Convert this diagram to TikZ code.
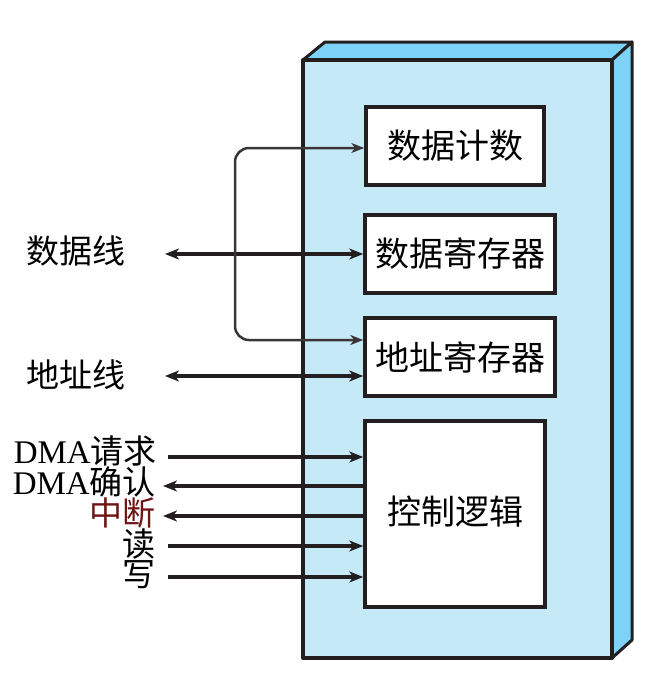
\documentclass[tikz,border=0pt]{standalone}
\usepackage{fontspec}
\setmainfont{Liberation Serif}
\newfontfamily\cjk{Noto Sans CJK SC}
\usetikzlibrary{arrows.meta}
\definecolor{frontblue}{RGB}{198,233,248}
\definecolor{sideblue}{RGB}{125,211,247}
\definecolor{ink}{RGB}{35,31,32}
\definecolor{redbrown}{RGB}{110,20,20}
\newcommand{\zh}[1]{{\cjk #1}}
\tikzset{
  regbox/.style={draw=ink, line width=3.5pt, fill=white, inner sep=0pt, font=\fontsize{34}{38}\selectfont\cjk},
  sig/.style={draw=ink, line width=4pt, -{Stealth[length=14pt,width=11pt,inset=4pt]}},
  bsig/.style={draw=ink, line width=4pt, {Stealth[length=14pt,width=11pt,inset=4pt]}-{Stealth[length=14pt,width=11pt,inset=4pt]}},
  thinsig/.style={draw=ink!90, line width=2.5pt, rounded corners=14pt, {Stealth[length=13pt,width=10pt,inset=4pt]}-{Stealth[length=13pt,width=10pt,inset=4pt]}},
  lbl/.style={inner sep=0pt, font=\fontsize{33}{36}\selectfont},
  face/.style={draw=ink, line width=3pt, line join=round}
}
\begin{document}
\begin{tikzpicture}[x=1pt,y=-1pt]
\useasboundingbox (0,0) rectangle (645,681);
% 3D box
\filldraw[face, fill=sideblue] (303,60) -- (325,42) -- (632,42) -- (612,60) -- cycle;
\filldraw[face, fill=sideblue] (612,60) -- (632,42) -- (632,640) -- (612,658) -- cycle;
\filldraw[face, fill=frontblue, line width=4pt] (303,60) rectangle (612,658);
% inner boxes
\node[regbox, minimum width=178pt, minimum height=78pt] (cnt) at (455,146) {数据计数};
\node[regbox, minimum width=190pt, minimum height=78pt] (dreg) at (460,254) {数据寄存器};
\node[regbox, minimum width=190pt, minimum height=78pt] (areg) at (460,357) {地址寄存器};
\node[regbox, minimum width=180pt, minimum height=186pt] (ctl) at (455,514) {};
\node[inner sep=0pt, font=\fontsize{34}{38}\selectfont\cjk] (ctltxt) at (455,512) {控制逻辑};
% left labels
\node[lbl] (dl) at (76,251) {\zh{数据线}};
\node[lbl] (al) at (76,375) {\zh{地址线}};
\node[lbl, anchor=east] (l1) at (157,451) {DMA\zh{请求}};
\node[lbl, anchor=east] (l2) at (156,482) {DMA\zh{确认}};
\node[lbl, anchor=east, text=redbrown] (l3) at (156,513) {\zh{中断}};
\node[lbl, anchor=east] (l4) at (156,544) {\zh{读}};
\node[lbl, anchor=east] (l5) at (156,575) {\zh{写}};
% connector coordinates
\coordinate (dle) at (165,254);
\coordinate (ale) at (165,376);
\coordinate (c1) at (235,340);
\coordinate (c2) at (235,148);
\coordinate (s1) at (168,457);
\coordinate (s2) at (163,486);
\coordinate (s3) at (163,516);
\coordinate (s4) at (168,546);
\coordinate (s5) at (168,577);
% connectors
\draw[bsig] (dle) -- (dreg.west);
\draw[bsig] (ale) -- (areg.west |- ale);
\draw[thinsig] (areg.west |- c1) -- (c1) -- (c2) -- (cnt.west |- c2);
\draw[sig] (s1) -- (ctl.west |- s1);
\draw[sig] (ctl.west |- s2) -- (s2);
\draw[sig] (ctl.west |- s3) -- (s3);
\draw[sig] (s4) -- (ctl.west |- s4);
\draw[sig] (s5) -- (ctl.west |- s5);
\end{tikzpicture}
\end{document}
